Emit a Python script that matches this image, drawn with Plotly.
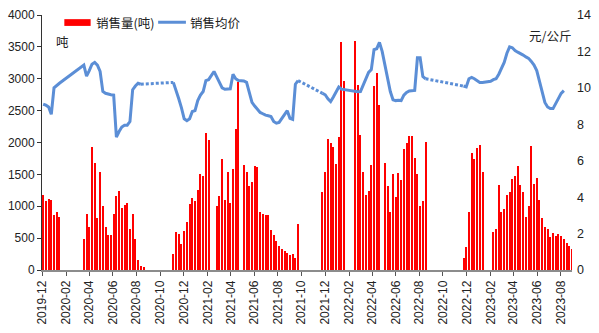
import pandas as pd
import plotly.graph_objects as go

# Weekly series, first week starting 2019-12-04
week_start = "2019-12-04"
n_weeks = 196

N = None
# Weekly sales volume (tons); None = no sales that week
sales = (
    [1170, 1085, 1115, 1100, 860, 905, 830]
    + [N] * 8
    + [485, 879, 682, 1924, 1682, 813, 1530, 1010, 682, 545, 555, 874, 1156, 1232,
       965, 1025, 1050, 651, 874, 488, 152, 65, 40]
    + [N] * 10
    + [258, 591, 561, 409, 606, 758, 1040, 1131, 1076, 1262, 1500, 1474, 2151, 2045]
    + [N] * 2
    + [1005, 1156, 1747, 1100, 1545, 1050, 1586, 2210, 2950]
    + [N]
    + [1647, 1545, 1318, 1383, 1636, 1623, 914, 876, 862, 862, 624, 545, 459, 383,
       328, 303, 262, 242, 247, 182, 727]
    + [N] * 8
    + [1217, 1530, 2060, 1995, 1924, 1667, 2086, 3575, 2970]
    + [N] * 3
    + [3591, 2909, 2116, 1530, 1171, 1232, 1647, 2879, 3086, 2596]
    + [N]
    + [1682, 1318, 904, 1510, 1141, 1515, 1419, 1894, 1995, 2101, 2101, 1757, 1500,
       1005, 1086, 2010]
    + [N] * 13
    + [192, 364, 904, 1833, 1747, 1909, 1965, 1530]
    + [N] * 3
    + [601, 647, 1338, 909, 950, 1177, 1217, 1429, 1474, 1626, 1328, 1222, 838, 1000,
       1939, 1343, 1444, 1100, 813, 671, 636, 515, 586, 535, 571, 535, 490, 424, 383, 323]
)

# Weekly average selling price (yuan/kg)
price = (
    [9.1, 9.05, 8.95, 8.55, 10.0, 10.15, 10.25]
    + [N] * 8
    + [11.25, 10.65, 10.95, 11.3, 11.4, 11.25, 10.9, 9.8, 9.7, 9.65, 9.62, 9.6, 7.3,
       7.6, 7.85, 7.95, 7.95, 8.15, 9.9, 10.1, 10.25, 10.2]
    + [N] * 11
    + [10.3, 9.9, 9.4, 8.9, 8.3, 8.2, 8.3, 8.7, 8.75, 9.3, 9.6, 9.8, 10.4, 10.45, 10.7,
       10.9, 10.6, 10.3, 10.0, 9.92, 9.95, 9.95, 10.75, 10.5, 10.4, 10.4, 10.38, 10.3,
       9.8, 9.2, 9.0, 8.8, 8.65, 8.58, 8.5, 8.47, 8.43, 8.15, 8.06, 8.1, 8.3, 8.5, 8.75,
       8.33, 8.27, 10.2, 10.4]
    + [N] * 8
    + [9.7, 9.62, 9.4, 9.25, 9.5, 9.8, 10.05, 9.93, 9.9, 9.88, 9.85, 9.82, 9.8, 9.79,
       9.8, 10.15, 10.6, 10.85, 11.0, 12.1, 12.15, 12.5, 12.0, 11.2, 10.6, 9.8, 9.35,
       9.3, 9.32, 9.3, 9.6, 9.75, 9.83, 9.85, 9.86, 11.65, 11.65, 10.62, 10.5]
    + [N] * 13
    + [10.1, 10.05, 10.5, 10.57, 10.5, 10.4, 10.3, 10.3, 10.32, 10.33, 10.36, 10.45,
       10.5, 10.75, 11.1, 11.4, 11.9, 12.25, 12.2, 12.05, 11.96, 11.9, 11.8, 11.7,
       11.62, 11.45, 11.25, 10.95, 10.4, 9.7, 9.2, 8.95, 8.86, 8.86, 9.15, 9.45, 9.7,
       9.85]
    + [N] * 3
)

# Selling seasons (week index ranges); off-season gaps are bridged with dots
seasons = [(0, 36), (48, 94), (103, 141), (155, 192)]

dates = pd.date_range(week_start, periods=n_weeks, freq="7D")

RED = "#FF0000"
BLUE = "#5B8ED6"
TXT = "#222222"
FONT = "Liberation Sans, Arial, Noto Sans CJK SC, sans-serif"
CJK = "Noto Sans CJK SC, sans-serif"

W, H = 599, 333
ML, MR, MT, MB = 40, 25, 8, 61
PW, PH = W - ML - MR, H - MT - MB


def px(x):
    return (x - ML) / PW


def py(y):
    return (H - MB - y) / PH


fig = go.Figure()

fig.add_trace(go.Bar(
    x=dates, y=sales, width=2.6 * 86400000,
    marker=dict(color=RED, line=dict(width=0)),
    showlegend=False, hoverinfo="skip",
))

for a, b in seasons:
    fig.add_trace(go.Scatter(
        x=dates[a:b + 1], y=price[a:b + 1], yaxis="y2", mode="lines",
        connectgaps=True, line=dict(color=BLUE, width=3),
        showlegend=False, hoverinfo="skip",
    ))

for (a0, b0), (a1, b1) in zip(seasons[:-1], seasons[1:]):
    fig.add_trace(go.Scatter(
        x=[dates[b0], dates[a1]], y=[price[b0], price[a1]], yaxis="y2", mode="lines",
        line=dict(color=BLUE, width=3, dash="3px,2px"),
        showlegend=False, hoverinfo="skip",
    ))

# Legend drawn by hand
shapes = [
    dict(type="rect", xref="paper", yref="paper",
         x0=px(62.5), x1=px(89), y0=py(19.3), y1=py(12.3),
         fillcolor=RED, line=dict(width=0)),
    dict(type="line", xref="paper", yref="paper",
         x0=px(157), x1=px(185), y0=py(15.5), y1=py(15.5),
         line=dict(color=BLUE, width=3)),
]
annotations = [
    dict(text="销售量(吨)", x=px(92), y=py(16), xanchor="left", yanchor="middle"),
    dict(text="销售均价", x=px(187), y=py(16), xanchor="left", yanchor="middle"),
    dict(text="吨", x=px(61), y=py(35.5), xanchor="center", yanchor="middle"),
    dict(text="元/公斤", x=px(552), y=py(29.5), xanchor="center", yanchor="middle"),
]
for ann in annotations:
    ann.update(xref="paper", yref="paper", showarrow=False,
               font=dict(family=CJK, size=12.5, color=TXT))

fig.update_layout(
    width=W, height=H,
    margin=dict(l=ML, r=MR, t=MT, b=MB),
    paper_bgcolor="white", plot_bgcolor="white",
    font=dict(family=FONT, size=12, color=TXT),
    bargap=0,
    shapes=shapes, annotations=annotations,
    xaxis=dict(
        type="date", range=["2019-12-01", "2023-08-30"],
        tick0="2019-12-01", dtick="M2", tickformat="%Y-%m", tickangle=-90,
        ticks="outside", ticklen=4, tickcolor="#555555",
        showline=True, linecolor="#8C8C8C", linewidth=1.5,
        showgrid=False, zeroline=False,
        tickfont=dict(family=FONT, size=12, color=TXT),
    ),
    yaxis=dict(
        range=[0, 4000], dtick=500, ticks="outside", ticklen=4, tickcolor="#333333",
        showline=True, linecolor="#333333", linewidth=1,
        showgrid=False, zeroline=False,
        tickfont=dict(family=FONT, size=12, color=TXT),
    ),
    yaxis2=dict(
        overlaying="y", side="right", range=[0, 14], dtick=2,
        showline=False, ticks="", showgrid=False, zeroline=False,
        ticklabelstandoff=4,
        tickfont=dict(family=FONT, size=12.5, color=TXT),
    ),
)

fig.write_html("out.html")
